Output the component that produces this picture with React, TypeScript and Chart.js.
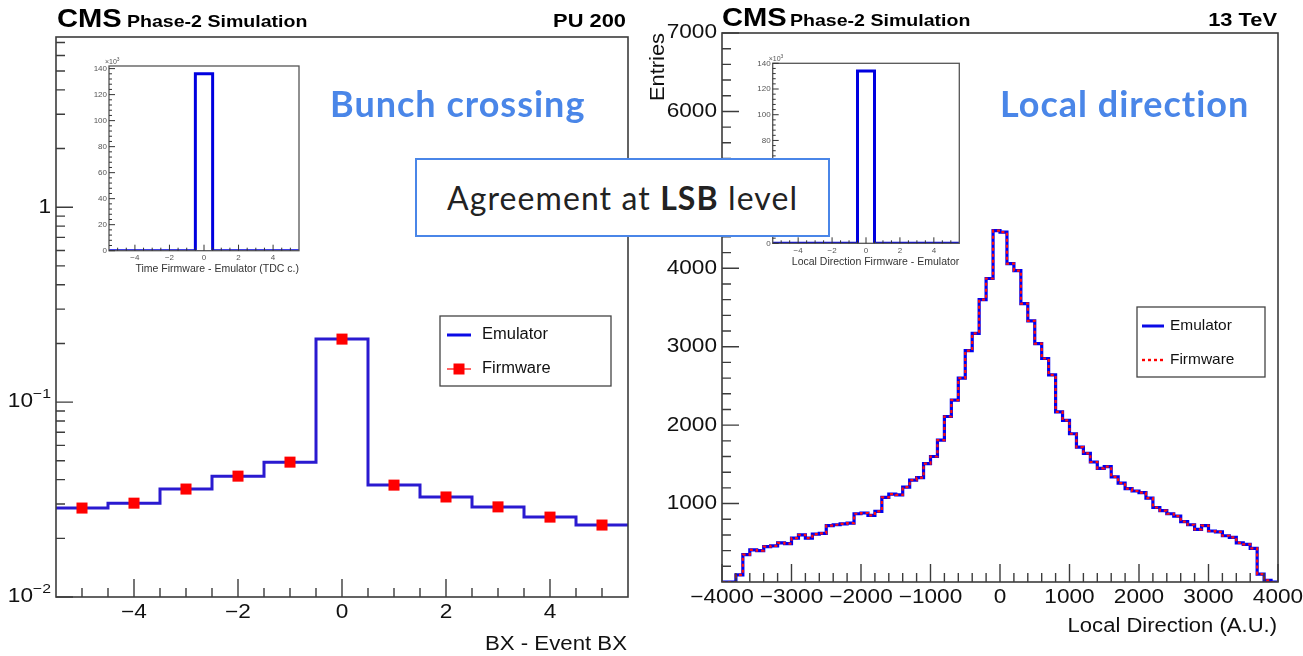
import React, { useEffect, useRef } from "react";
import { Chart, registerables } from "chart.js";

Chart.register(...registerables);

const FONT = "'Liberation Sans', Arial, Helvetica, sans-serif";
const SLIDE_FONT = "Lato, 'Open Sans', sans-serif";

// ---------------- Left panel: BX - Event BX (log scale) ----------------
const bxBinCenters = [-5, -4, -3, -2, -1, 0, 1, 2, 3, 4, 5];
const bxEmulator = [0.0286, 0.0303, 0.0358, 0.0417, 0.0492, 0.2105, 0.0375, 0.0326, 0.029, 0.0257, 0.0234];
const bxFirmware = [0.0286, 0.0303, 0.0358, 0.0417, 0.0492, 0.2105, 0.0375, 0.0326, 0.029, 0.0257, 0.0234];
const bxTickValues = [-4, -2, 0, 2, 4];
const bxTickLabels = ["\u22124", "\u22122", "0", "2", "4"];
const bxLogTickValues = [0.01, 0.1, 1];
const bxLogTickBase = ["10", "10", "1"];
const bxLogTickExp = ["\u22122", "\u22121", ""];

// ---------------- Insets: Firmware - Emulator differences (x10^3 entries) ----------------
const diffBinCenters = [-5, -4, -3, -2, -1, 0, 1, 2, 3, 4, 5];
const timeDiffCounts = [0, 0, 0, 0, 0, 136, 0, 0, 0, 0, 0];
const dirDiffCounts = [0, 0, 0, 0, 0, 134, 0, 0, 0, 0, 0];
const diffTickValues = [-4, -2, 0, 2, 4];
const diffTickLabels = ["\u22124", "\u22122", "0", "2", "4"];
const diffYTickValues = [0, 20, 40, 60, 80, 100, 120, 140];
const diffYTickLabels = ["0", "20", "40", "60", "80", "100", "120", "140"];

// ---------------- Right panel: Local direction ----------------
const ldFirstEdge = -4000;
const ldBinWidth = 100;
const ldEmulator = [
  0, 0, 90, 350, 410, 400, 450, 460, 500, 490,
  560, 600, 560, 610, 620, 720, 730, 740, 750, 870,
  880, 850, 900, 1080, 1120, 1110, 1210, 1300, 1330, 1510,
  1600, 1810, 2110, 2320, 2600, 2950, 3170, 3600, 3870, 4480,
  4460, 4060, 3970, 3550, 3330, 3040, 2850, 2640, 2170, 2060,
  1890, 1720, 1640, 1530, 1450, 1470, 1340, 1260, 1190, 1160,
  1140, 1070, 950, 910, 870, 840, 770, 730, 670, 720,
  650, 640, 590, 570, 500, 480, 430, 100, 20, 0,
];
const ldFirmware = [
  0, 0, 90, 350, 410, 400, 450, 460, 500, 490,
  560, 600, 560, 610, 620, 720, 730, 740, 750, 870,
  880, 850, 900, 1080, 1120, 1110, 1210, 1300, 1330, 1510,
  1600, 1810, 2110, 2320, 2600, 2950, 3170, 3600, 3870, 4480,
  4460, 4060, 3970, 3550, 3330, 3040, 2850, 2640, 2170, 2060,
  1890, 1720, 1640, 1530, 1450, 1470, 1340, 1260, 1190, 1160,
  1140, 1070, 950, 910, 870, 840, 770, 730, 670, 720,
  650, 640, 590, 570, 500, 480, 430, 100, 20, 0,
];
const ldTickValues = [-4000, -3000, -2000, -1000, 0, 1000, 2000, 3000, 4000];
const ldTickLabels = ["\u22124000", "\u22123000", "\u22122000", "\u22121000", "0", "1000", "2000", "3000", "4000"];
const ldYTickValues = [1000, 2000, 3000, 4000, 5000, 6000, 7000];
const ldYTickLabels = ["1000", "2000", "3000", "4000", "5000", "6000", "7000"];

// ---------------- helpers ----------------
function stepRange(a: number, b: number, s: number, skip: number[]): number[] {
  const out: number[] = [];
  const n = Math.round((b - a) / s);
  for (let i = 0; i <= n; i++) {
    const v = +(a + i * s).toFixed(6);
    if (!skip.some((k) => Math.abs(k - v) < 1e-9)) out.push(v);
  }
  return out;
}

function histFromCenters(centers: number[], values: number[]) {
  const w = centers[1] - centers[0];
  const pts = centers.map((c, i) => ({ x: c - w / 2, y: values[i] }));
  pts.push({ x: centers[centers.length - 1] + w / 2, y: values[values.length - 1] });
  return pts;
}

function histFromEdges(first: number, width: number, values: number[]) {
  const pts = values.map((v, i) => ({ x: first + i * width, y: v }));
  pts.push({ x: first + values.length * width, y: values[values.length - 1] });
  return pts;
}

type Lbl = { v: number; t: string; e?: string };
interface AxisSpec {
  major: number[];
  minor: number[];
  majLen: number;
  minLen: number;
  labels: Lbl[];
  size: number;
  sx: number;
  offset: number;
  color: string;
  tickColor: string;
  tickWidth: number;
}
interface TextSpec {
  t: string;
  x: number;
  y: number;
  size: number;
  bold?: boolean;
  sx?: number;
  align: "left" | "right" | "center";
  base?: CanvasTextBaseline;
  color?: string;
  rot?: boolean;
  e?: string;
}
interface LegendEntry {
  label: string;
  color: string;
  kind: "line" | "marker" | "dash";
  y: number;
}
interface LegendSpec {
  x1: number;
  y1: number;
  x2: number;
  y2: number;
  lineX1: number;
  lineX2: number;
  textX: number;
  size: number;
  sx: number;
  entries: LegendEntry[];
}
interface RootSpec {
  frameColor: string;
  frameWidth: number;
  x: AxisSpec;
  y: AxisSpec;
  texts: TextSpec[];
  legend?: LegendSpec;
}

function drawText(
  ctx: CanvasRenderingContext2D,
  t: string,
  x: number,
  y: number,
  size: number,
  bold: boolean,
  sx: number,
  align: "left" | "right" | "center",
  base: CanvasTextBaseline,
  color: string
) {
  ctx.save();
  ctx.font = `${bold ? "bold " : ""}${size}px ${FONT}`;
  ctx.fillStyle = color;
  ctx.textBaseline = base;
  ctx.textAlign = "left";
  const w = ctx.measureText(t).width * sx;
  const left = align === "left" ? x : align === "right" ? x - w : x - w / 2;
  ctx.translate(left, y);
  ctx.scale(sx, 1);
  ctx.fillText(t, 0, 0);
  ctx.restore();
  return w;
}

function measure(ctx: CanvasRenderingContext2D, t: string, size: number, bold: boolean, sx: number) {
  ctx.save();
  ctx.font = `${bold ? "bold " : ""}${size}px ${FONT}`;
  const w = ctx.measureText(t).width * sx;
  ctx.restore();
  return w;
}

function makeRootPlugin(spec: RootSpec) {
  return {
    id: "rootStyle",
    afterDraw(chart: any) {
      const ctx: CanvasRenderingContext2D = chart.ctx;
      const a = chart.chartArea;
      const xs = chart.scales.x;
      const ys = chart.scales.y;
      ctx.save();
      ctx.strokeStyle = spec.frameColor;
      ctx.lineWidth = spec.frameWidth;
      ctx.strokeRect(a.left, a.top, a.right - a.left, a.bottom - a.top);

      const X = spec.x;
      ctx.strokeStyle = X.tickColor;
      ctx.lineWidth = X.tickWidth;
      ctx.beginPath();
      for (const v of X.minor) {
        const p = xs.getPixelForValue(v);
        ctx.moveTo(p, a.bottom);
        ctx.lineTo(p, a.bottom - X.minLen);
      }
      for (const v of X.major) {
        const p = xs.getPixelForValue(v);
        ctx.moveTo(p, a.bottom);
        ctx.lineTo(p, a.bottom - X.majLen);
      }
      ctx.stroke();

      const Y = spec.y;
      ctx.strokeStyle = Y.tickColor;
      ctx.lineWidth = Y.tickWidth;
      ctx.beginPath();
      for (const v of Y.minor) {
        const p = ys.getPixelForValue(v);
        ctx.moveTo(a.left, p);
        ctx.lineTo(a.left + Y.minLen, p);
      }
      for (const v of Y.major) {
        const p = ys.getPixelForValue(v);
        ctx.moveTo(a.left, p);
        ctx.lineTo(a.left + Y.majLen, p);
      }
      ctx.stroke();

      for (const l of X.labels) {
        drawText(ctx, l.t, xs.getPixelForValue(l.v), a.bottom + X.offset, X.size, false, X.sx, "center", "middle", X.color);
      }
      for (const l of Y.labels) {
        const py = ys.getPixelForValue(l.v);
        const xr = a.left - Y.offset;
        const esz = Y.size * 0.7;
        const we = l.e ? measure(ctx, l.e, esz, false, Y.sx) : 0;
        drawText(ctx, l.t, xr - we, py, Y.size, false, Y.sx, "right", "middle", Y.color);
        if (l.e) drawText(ctx, l.e, xr, py - Y.size * 0.42, esz, false, Y.sx, "right", "middle", Y.color);
      }

      for (const t of spec.texts) {
        const color = t.color || "#000";
        const base = t.base || "alphabetic";
        const sx = t.sx || 1;
        if (t.rot) {
          ctx.save();
          ctx.translate(t.x, t.y);
          ctx.rotate(-Math.PI / 2);
          drawText(ctx, t.t, 0, 0, t.size, !!t.bold, sx, t.align, base, color);
          ctx.restore();
        } else if (t.e) {
          const w = drawText(ctx, t.t, t.x, t.y, t.size, !!t.bold, sx, t.align, base, color);
          const xe = t.align === "left" ? t.x + w : t.align === "right" ? t.x : t.x + w / 2;
          drawText(ctx, t.e, xe, t.y - t.size * 0.45, t.size * 0.7, !!t.bold, sx, "left", base, color);
        } else {
          drawText(ctx, t.t, t.x, t.y, t.size, !!t.bold, sx, t.align, base, color);
        }
      }

      const L = spec.legend;
      if (L) {
        ctx.fillStyle = "#fff";
        ctx.fillRect(L.x1, L.y1, L.x2 - L.x1, L.y2 - L.y1);
        ctx.strokeStyle = "#444";
        ctx.lineWidth = 1.3;
        ctx.strokeRect(L.x1, L.y1, L.x2 - L.x1, L.y2 - L.y1);
        for (const e of L.entries) {
          ctx.save();
          ctx.strokeStyle = e.color;
          if (e.kind === "dash") {
            ctx.lineWidth = 2.4;
            ctx.setLineDash([3, 3]);
          } else if (e.kind === "marker") {
            ctx.lineWidth = 1.2;
          } else {
            ctx.lineWidth = 3;
          }
          ctx.beginPath();
          ctx.moveTo(L.lineX1, e.y);
          ctx.lineTo(L.lineX2, e.y);
          ctx.stroke();
          if (e.kind === "marker") {
            const cx = (L.lineX1 + L.lineX2) / 2;
            ctx.fillStyle = e.color;
            ctx.fillRect(cx - 5.5, e.y - 5.5, 11, 11);
          }
          ctx.restore();
          drawText(ctx, e.label, L.textX, e.y, L.size, false, L.sx, "left", "middle", "#111");
        }
      }
      ctx.restore();
    },
  };
}

function ChartCanvas(props: { left: number; top: number; width: number; height: number; make: () => any }) {
  const ref = useRef<HTMLCanvasElement | null>(null);
  useEffect(() => {
    if (!ref.current) return;
    const chart = new Chart(ref.current, props.make());
    return () => chart.destroy();
  }, []);
  return (
    <canvas
      ref={ref}
      width={props.width}
      height={props.height}
      style={{ position: "absolute", left: props.left, top: props.top, width: props.width, height: props.height }}
    />
  );
}

const baseOptions = {
  animation: false,
  responsive: false,
  maintainAspectRatio: false,
  devicePixelRatio: 1,
  events: [],
  plugins: { legend: { display: false }, tooltip: { enabled: false }, title: { display: false } },
};

const TS = 19.5; // ROOT text size
const TSX = 1.16; // ROOT text horizontal stretch

function makeBxChart() {
  const spec: RootSpec = {
    frameColor: "#3c3c3c",
    frameWidth: 1.6,
    x: {
      major: bxTickValues,
      minor: stepRange(-5, 5, 0.5, bxTickValues),
      majLen: 18,
      minLen: 9,
      labels: bxTickValues.map((v, i) => ({ v, t: bxTickLabels[i] })),
      size: TS,
      sx: TSX,
      offset: 16,
      color: "#111",
      tickColor: "#3c3c3c",
      tickWidth: 1.4,
    },
    y: {
      major: bxLogTickValues,
      minor: [0.02, 0.03, 0.04, 0.05, 0.06, 0.07, 0.08, 0.09, 0.2, 0.3, 0.4, 0.5, 0.6, 0.7, 0.8, 0.9, 2, 3, 4, 5, 6, 7],
      majLen: 17,
      minLen: 9,
      labels: bxLogTickValues.map((v, i) => ({ v, t: bxLogTickBase[i], e: bxLogTickExp[i] || undefined })),
      size: TS,
      sx: TSX,
      offset: 5,
      color: "#111",
      tickColor: "#3c3c3c",
      tickWidth: 1.4,
    },
    texts: [
      { t: "CMS", x: 57, y: 27, size: 26, bold: true, sx: 1.12, align: "left" },
      { t: "Phase-2 Simulation", x: 127, y: 27, size: 17, bold: true, sx: 1.15, align: "left" },
      { t: "PU 200", x: 626, y: 27, size: 19, bold: true, sx: 1.15, align: "right" },
      { t: "BX - Event BX", x: 627, y: 645, size: TS, sx: 1.14, align: "right", base: "middle", color: "#111" },
    ],
    legend: {
      x1: 440,
      y1: 316,
      x2: 611,
      y2: 386,
      lineX1: 447,
      lineX2: 471,
      textX: 482,
      size: 16,
      sx: 1.03,
      entries: [
        { label: "Emulator", color: "#0a0ae6", kind: "line", y: 335 },
        { label: "Firmware", color: "#ff0000", kind: "marker", y: 369 },
      ],
    },
  };
  return {
    type: "line",
    data: {
      datasets: [
        {
          label: "Firmware",
          data: bxBinCenters.map((c, i) => ({ x: c, y: bxFirmware[i] })),
          showLine: false,
          pointStyle: "rect",
          pointRadius: 7.8,
          pointBackgroundColor: "#ff0000",
          pointBorderColor: "#ff0000",
          pointBorderWidth: 0,
          order: 0,
        },
        {
          label: "Emulator",
          data: histFromCenters(bxBinCenters, bxEmulator),
          stepped: "before",
          borderColor: "#2a1ad0",
          borderWidth: 3,
          pointRadius: 0,
          fill: false,
          order: 1,
        },
      ],
    },
    options: {
      ...baseOptions,
      layout: { padding: { left: 56, top: 37, right: 12, bottom: 59 } },
      scales: {
        x: { type: "linear", min: -5.5, max: 5.5, display: false },
        y: { type: "logarithmic", min: 0.01, max: 7.47, display: false },
      },
    },
    plugins: [makeRootPlugin(spec)],
  };
}

function makeLdChart() {
  const spec: RootSpec = {
    frameColor: "#3c3c3c",
    frameWidth: 1.6,
    x: {
      major: ldTickValues,
      minor: stepRange(-3800, 3800, 200, ldTickValues),
      majLen: 18,
      minLen: 9,
      labels: ldTickValues.map((v, i) => ({ v, t: ldTickLabels[i] })),
      size: TS,
      sx: TSX,
      offset: 16,
      color: "#111",
      tickColor: "#3c3c3c",
      tickWidth: 1.4,
    },
    y: {
      major: ldYTickValues,
      minor: stepRange(200, 6800, 200, ldYTickValues),
      majLen: 17,
      minLen: 9,
      labels: ldYTickValues.map((v, i) => ({ v, t: ldYTickLabels[i] })),
      size: TS,
      sx: TSX,
      offset: 5,
      color: "#111",
      tickColor: "#3c3c3c",
      tickWidth: 1.4,
    },
    texts: [
      { t: "CMS", x: 82, y: 25.5, size: 26, bold: true, sx: 1.12, align: "left" },
      { t: "Phase-2 Simulation", x: 150, y: 25.5, size: 17, bold: true, sx: 1.15, align: "left" },
      { t: "13 TeV", x: 637, y: 25.5, size: 19, bold: true, sx: 1.15, align: "right" },
      { t: "Local Direction (A.U.)", x: 637, y: 627, size: TS, sx: 1.13, align: "right", base: "middle", color: "#111" },
      { t: "Entries", x: 19, y: 33, size: TS, sx: 1.12, align: "right", base: "middle", color: "#111", rot: true },
    ],
    legend: {
      x1: 497,
      y1: 307,
      x2: 625,
      y2: 377,
      lineX1: 502,
      lineX2: 524,
      textX: 530,
      size: 15,
      sx: 1.03,
      entries: [
        { label: "Emulator", color: "#0a0ae6", kind: "line", y: 326 },
        { label: "Firmware", color: "#ff0000", kind: "dash", y: 360 },
      ],
    },
  };
  return {
    type: "line",
    data: {
      datasets: [
        {
          label: "Firmware",
          data: histFromEdges(ldFirstEdge, ldBinWidth, ldFirmware),
          stepped: "before",
          borderColor: "#ff1010",
          borderWidth: 2.2,
          borderDash: [3, 3],
          pointRadius: 0,
          fill: false,
          order: 0,
        },
        {
          label: "Emulator",
          data: histFromEdges(ldFirstEdge, ldBinWidth, ldEmulator),
          stepped: "before",
          borderColor: "#0000f0",
          borderWidth: 3.2,
          pointRadius: 0,
          fill: false,
          order: 1,
        },
      ],
    },
    options: {
      ...baseOptions,
      layout: { padding: { left: 82, top: 33, right: 25, bottom: 74 } },
      scales: {
        x: { type: "linear", min: -4000, max: 4000, display: false },
        y: { type: "linear", min: 0, max: 7000, display: false },
      },
    },
    plugins: [makeRootPlugin(spec)],
  };
}

function makeInset(values: number[], title: string, ymax: number, pad: any, titleY: number) {
  const spec: RootSpec = {
    frameColor: "#555",
    frameWidth: 1.3,
    x: {
      major: diffTickValues,
      minor: stepRange(-5, 5, 0.5, diffTickValues),
      majLen: 6,
      minLen: 3,
      labels: diffTickValues.map((v, i) => ({ v, t: diffTickLabels[i] })),
      size: 8,
      sx: 1,
      offset: 7,
      color: "#555",
      tickColor: "#333",
      tickWidth: 1,
    },
    y: {
      major: diffYTickValues,
      minor: stepRange(0, 140, 4, diffYTickValues),
      majLen: 6,
      minLen: 3,
      labels: diffYTickValues.map((v, i) => ({ v, t: diffYTickLabels[i] })),
      size: 8,
      sx: 1,
      offset: 2,
      color: "#555",
      tickColor: "#333",
      tickWidth: 1,
    },
    texts: [
      { t: title, x: 0, y: titleY, size: 10.5, align: "right", base: "middle", color: "#333" },
      { t: "\u00d710", x: 0, y: 0, size: 7, align: "left", base: "alphabetic", color: "#555", e: "3" },
    ],
  };
  const plugin = makeRootPlugin(spec);
  const wrapped = {
    id: "rootStyle",
    afterDraw(chart: any) {
      const a = chart.chartArea;
      spec.texts[0].x = a.right;
      spec.texts[1].x = a.left - 4;
      spec.texts[1].y = a.top - 2;
      plugin.afterDraw(chart);
    },
  };
  return {
    type: "line",
    data: {
      datasets: [
        {
          label: "Firmware - Emulator",
          data: histFromCenters(diffBinCenters, values),
          stepped: "before",
          borderColor: "#0000e0",
          borderWidth: 3,
          pointRadius: 0,
          fill: false,
        },
      ],
    },
    options: {
      ...baseOptions,
      layout: { padding: pad },
      scales: {
        x: { type: "linear", min: -5.5, max: 5.5, display: false },
        y: { type: "linear", min: 0, max: ymax, display: false },
      },
    },
    plugins: [wrapped],
  };
}

export default function App() {
  const headStyle: React.CSSProperties = {
    position: "absolute",
    top: 79,
    font: `bold 36px ${SLIDE_FONT}`,
    letterSpacing: "1px",
    lineHeight: "48px",
    color: "#4a86e8",
    whiteSpace: "nowrap",
  };
  return (
    <div
      style={{
        position: "absolute",
        left: 0,
        top: 0,
        width: 1303,
        height: 656,
        overflow: "hidden",
        background: "#fff",
      }}
    >
      <ChartCanvas left={0} top={0} width={640} height={656} make={makeBxChart} />
      <ChartCanvas left={640} top={0} width={663} height={656} make={makeLdChart} />
      <ChartCanvas
        left={80}
        top={50}
        width={240}
        height={230}
        make={() =>
          makeInset(timeDiffCounts, "Time Firmware - Emulator (TDC c.)", 142, { left: 29, top: 16, right: 21, bottom: 29.3 }, 219)
        }
      />
      <ChartCanvas
        left={740}
        top={50}
        width={240}
        height={230}
        make={() =>
          makeInset(dirDiffCounts, "Local Direction Firmware - Emulator", 140, { left: 32.7, top: 13.3, right: 20.7, bottom: 36.7 }, 212)
        }
      />
      <div style={{ ...headStyle, left: 330 }}>Bunch crossing</div>
      <div style={{ ...headStyle, left: 1000 }}>Local direction</div>
      <div
        style={{
          position: "absolute",
          left: 415,
          top: 158,
          width: 415,
          height: 79,
          boxSizing: "border-box",
          border: "2px solid #4a86e8",
          background: "#fff",
          display: "flex",
          alignItems: "center",
          justifyContent: "center",
          font: `32px ${SLIDE_FONT}`,
          letterSpacing: "1.1px",
          color: "#222",
          whiteSpace: "pre",
        }}
      >
        {"Agreement at "}
        <b>LSB</b>
        {" level"}
      </div>
    </div>
  );
}
